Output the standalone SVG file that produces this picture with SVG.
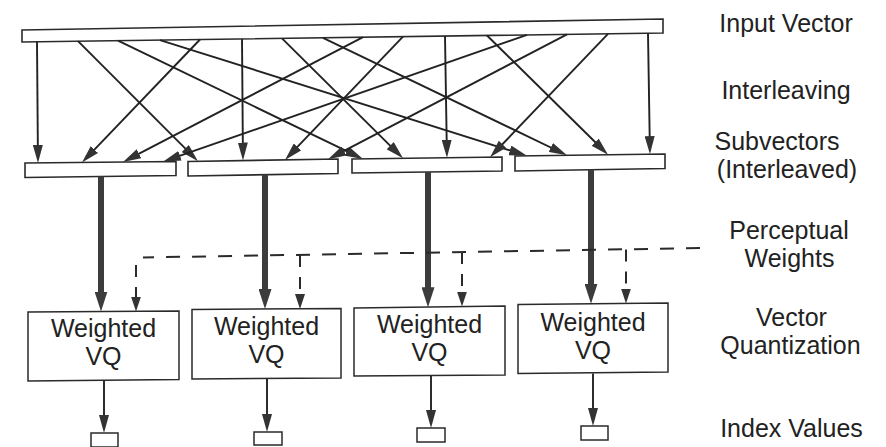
<svg xmlns="http://www.w3.org/2000/svg" width="886" height="447" viewBox="0 0 886 447">
  <defs>
    <style>
      .bar { fill: #ffffff; stroke: #2a2a2a; stroke-width: 1.6; }
      .box { fill: #ffffff; stroke: #2a2a2a; stroke-width: 1.5; }
      .thin { fill: none; stroke: #222222; stroke-width: 1.9; marker-end: url(#headThin); }
      .thick { fill: none; stroke: #3c3c3c; stroke-width: 6; marker-end: url(#headThick); }
      .dash { fill: none; stroke: #2a2a2a; stroke-width: 2; stroke-dasharray: 14 12; }
      .drop { fill: none; stroke: #2a2a2a; stroke-width: 2; stroke-dasharray: 12 10; marker-end: url(#headDash); }
      .label { font-family: "Liberation Sans", Arial, sans-serif; font-size: 25px; fill: #222222; text-anchor: middle; }
    </style>
    <marker id="headThin" markerUnits="userSpaceOnUse" markerWidth="18" markerHeight="10" refX="8" refY="5" orient="auto">
      <path d="M0,0 L18,5 L0,10 Z" fill="#333333"/>
    </marker>
    <marker id="headThick" markerUnits="userSpaceOnUse" markerWidth="20" markerHeight="13" refX="6" refY="6.5" orient="auto">
      <path d="M0,0 L20,6.5 L0,13 Z" fill="#3c3c3c"/>
    </marker>
    <marker id="headDash" markerUnits="userSpaceOnUse" markerWidth="15" markerHeight="10" refX="5" refY="5" orient="auto">
      <path d="M0,0 L15,5 L0,10 Z" fill="#333333"/>
    </marker>
  </defs>

  <rect width="886" height="447" fill="#ffffff"/>

  <!-- input vector -->
  <g id="input-vector">
    <polygon class="bar" points="22,30 663,19 663,33 22,42"/>
  </g>

  <!-- interleaved subvectors -->
  <g id="subvector-1"><polygon class="bar" points="25,163 176,161.5 176,175.5 25,177.5"/></g>
  <g id="subvector-2"><polygon class="bar" points="188,161.5 338,159 338,173.5 188,176"/></g>
  <g id="subvector-3"><polygon class="bar" points="352,159 502,157 502,171 352,173"/></g>
  <g id="subvector-4"><polygon class="bar" points="515,156 665,154 665,168.5 515,171"/></g>

  <!-- weighted VQ blocks -->
  <g id="vq-1">
    <polygon class="box" points="28,312 179,311 179,379.5 28,381"/>
    <text class="label" x="103.5" y="337">Weighted</text>
    <text class="label" x="103.5" y="365">VQ</text>
  </g>
  <g id="vq-2">
    <polygon class="box" points="192,309.5 341,308.5 341,378 192,379"/>
    <text class="label" x="266.5" y="335">Weighted</text>
    <text class="label" x="266.5" y="363">VQ</text>
  </g>
  <g id="vq-3">
    <polygon class="box" points="354,308 505,306 505,375 354,376"/>
    <text class="label" x="429.5" y="333">Weighted</text>
    <text class="label" x="429.5" y="361">VQ</text>
  </g>
  <g id="vq-4">
    <polygon class="box" points="518,304.5 668,303 668,372 518,373.5"/>
    <text class="label" x="593" y="331">Weighted</text>
    <text class="label" x="593" y="359">VQ</text>
  </g>

  <!-- index values -->
  <g id="index-1"><rect class="box" x="91" y="433" width="27" height="14"/></g>
  <g id="index-2"><rect class="box" x="254" y="432" width="28" height="13"/></g>
  <g id="index-3"><rect class="box" x="417" y="428" width="28" height="14"/></g>
  <g id="index-4"><rect class="box" x="581" y="426" width="27" height="14"/></g>

  <!-- connectors -->
  <g id="connectors">
    <!-- interleaving: element i goes to subvector (i mod 4), slot floor(i/4) -->
    <line class="thin" x1="37" y1="41.8" x2="37.9" y2="153"/>
    <line class="thin" x1="78" y1="41.2" x2="190.9" y2="154.2"/>
    <line class="thin" x1="118" y1="40.7" x2="354" y2="154.6"/>
    <line class="thin" x1="160" y1="40.1" x2="517.5" y2="152.8"/>
    <line class="thin" x1="200" y1="39.5" x2="88.9" y2="155.3"/>
    <line class="thin" x1="242" y1="38.9" x2="242.9" y2="150.5"/>
    <line class="thin" x1="282" y1="38.3" x2="395.9" y2="151.3"/>
    <line class="thin" x1="323" y1="37.8" x2="558" y2="151"/>
    <line class="thin" x1="363" y1="37.2" x2="131.9" y2="157.4"/>
    <line class="thin" x1="403" y1="36.6" x2="291.9" y2="152.7"/>
    <line class="thin" x1="445" y1="36.1" x2="446.8" y2="147.7"/>
    <line class="thin" x1="487" y1="35.5" x2="600.9" y2="147.8"/>
    <line class="thin" x1="527" y1="34.9" x2="172.4" y2="158.4"/>
    <line class="thin" x1="567" y1="34.3" x2="336.9" y2="154.6"/>
    <line class="thin" x1="608" y1="33.8" x2="496.9" y2="150"/>
    <line class="thin" x1="648" y1="33.2" x2="649.8" y2="144.2"/>

    <!-- subvectors into the quantizers -->
    <line class="thick" x1="101" y1="176.5" x2="101" y2="297.5"/>
    <line class="thick" x1="265" y1="174.5" x2="265" y2="295"/>
    <line class="thick" x1="428" y1="172" x2="428" y2="293.3"/>
    <line class="thick" x1="591" y1="169.5" x2="591" y2="289.8"/>

    <!-- perceptual weights bus -->
    <path class="dash" d="M700,248 L143,257.5"/>
    <path class="drop" d="M136,265 L136,301.5"/>
    <path class="drop" d="M300,255 L300,299"/>
    <path class="drop" d="M462,252 L462,296.5"/>
    <path class="drop" d="M626,249.5 L626,293.5"/>

    <!-- quantizer outputs -->
    <line class="thin" x1="104" y1="381" x2="104" y2="423"/>
    <line class="thin" x1="267" y1="379" x2="267" y2="422"/>
    <line class="thin" x1="431" y1="376" x2="431" y2="418"/>
    <line class="thin" x1="593" y1="373.5" x2="593" y2="416"/>
  </g>

  <!-- row captions -->
  <g id="captions">
    <text class="label" x="786" y="32">Input Vector</text>
    <text class="label" x="786" y="99">Interleaving</text>
    <text class="label" x="777" y="150">Subvectors</text>
    <text class="label" x="787" y="178">(Interleaved)</text>
    <text class="label" x="789" y="239">Perceptual</text>
    <text class="label" x="789.5" y="267">Weights</text>
    <text class="label" x="791.5" y="326">Vector</text>
    <text class="label" x="790.5" y="354">Quantization</text>
    <text class="label" x="791.5" y="437">Index Values</text>
  </g>
</svg>
